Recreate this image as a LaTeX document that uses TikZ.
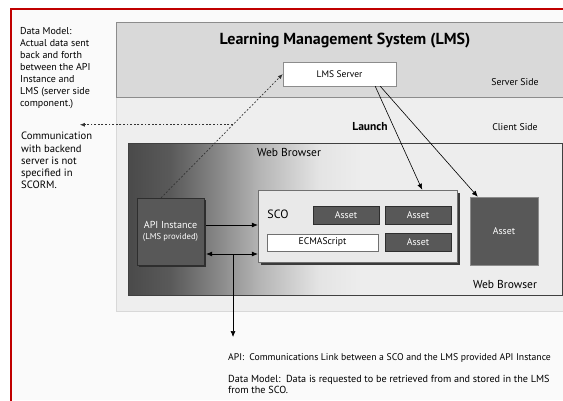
\documentclass[tikz,border=0pt]{standalone}
\usepackage{fontspec}
\setmainfont{PT Sans}
\usetikzlibrary{arrows.meta,calc,shadows}
\definecolor{framered}{HTML}{C00000}
\definecolor{paper}{HTML}{FAFAFA}
\definecolor{srvfill}{HTML}{D9D9D9}
\definecolor{srvline}{HTML}{8C8C8C}
\definecolor{clifill}{HTML}{EEEEEE}
\definecolor{cliline}{HTML}{D8D8D8}
\definecolor{wbdark}{HTML}{4A4A4A}
\definecolor{wbmid1}{HTML}{5A5A5A}
\definecolor{wbmid2}{HTML}{8A8A8A}
\definecolor{wbmid3}{HTML}{B5B5B5}
\definecolor{wbmid4}{HTML}{E4E4E4}
\definecolor{wblight}{HTML}{EDEDED}
\definecolor{darkbox}{HTML}{585858}
\definecolor{darkline}{HTML}{2E2E2E}
\definecolor{scofill}{HTML}{E9E9E9}
\definecolor{scoline}{HTML}{707070}
\definecolor{shadowc}{HTML}{3A3A3A}
\pgfdeclarehorizontalshading{wbshade}{100bp}{color(0bp)=(wbdark); color(25bp)=(wbdark); color(30bp)=(wbmid1); color(35.6bp)=(wbmid2); color(40.2bp)=(wbmid3); color(47bp)=(wbmid4); color(52bp)=(wblight); color(100bp)=(wblight)}
\tikzset{
  x=1pt, y=-1pt,
  arr/.style={-{Latex[length=6pt,width=5pt]}, line width=0.6pt, draw=black},
  arrboth/.style={{Latex[length=6pt,width=5pt]}-{Latex[length=6pt,width=5pt]}, line width=0.6pt, draw=black},
  dashedarr/.style={-{Latex[length=5pt,width=4pt]}, line width=0.7pt, draw=black!80, dash pattern=on 1.8pt off 1.8pt},
  lmsbox/.style={draw=srvline, fill=white, minimum width=113pt, minimum height=24pt, inner sep=0pt,
    font=\fontsize{9.5}{11}\selectfont, drop shadow={shadow xshift=1pt, shadow yshift=-1pt, fill=black!35, opacity=1}},
  assetbox/.style={draw=darkline, fill=darkbox, text=white, minimum width=66pt, minimum height=18pt, inner sep=0pt,
    font=\fontsize{9.8}{11}\selectfont},
  ecmabox/.style={draw=scoline, fill=white, minimum width=111pt, minimum height=17pt, inner sep=0pt,
    font=\fontsize{9.6}{11}\selectfont},
  scobox/.style={draw=scoline, fill=scofill, minimum width=199pt, minimum height=72pt, inner sep=0pt,
    drop shadow={shadow xshift=3pt, shadow yshift=-3pt, fill=shadowc, opacity=1}},
  apibox/.style={draw=darkline, fill=darkbox, text=white, minimum width=67pt, minimum height=67pt, inner sep=0pt,
    align=center, drop shadow={shadow xshift=2pt, shadow yshift=-2pt, fill=darkline, opacity=1}},
  bigasset/.style={draw=black!45, fill=darkbox, text=white, minimum width=68pt, minimum height=68pt, inner sep=0pt,
    font=\fontsize{9.8}{11}\selectfont},
  lbl/.style={inner sep=0pt, font=\fontsize{9.8}{11}\selectfont},
  note/.style={inner sep=0pt, align=left, anchor=north west},
}
\begin{document}
\begin{tikzpicture}
\useasboundingbox (0,0) rectangle (563,400);
\fill[white] (0,0) rectangle (563,400);
\fill[paper] (11,9) rectangle (563,400);
% bands
\path[fill=clifill, draw=cliline, line width=0.6pt] (116,97) rectangle (566,311);
\path[fill=srvfill, draw=srvline, line width=0.7pt] (116,22) rectangle (566,97);
% red frame
\draw[framered, line width=2.5pt] (10,9) -- (565,9);
\draw[framered, line width=2.5pt] (11,8) -- (11,402);
% web browser area
\path[shading=wbshade, draw=black!75, line width=0.7pt] (128,143) rectangle (562,295);
% labels
\node[inner sep=0pt, font=\fontsize{16}{18}\selectfont\bfseries] (title) at (345,41) {Learning Management System (LMS)};
\node[lbl] (srvside) at (515,82) {Server Side};
\node[lbl] (clside) at (515,127) {Client Side};
\node[inner sep=0pt, font=\fontsize{11.5}{13}\selectfont\bfseries] (launch) at (370,127) {Launch};
\node[inner sep=0pt, font=\fontsize{11.5}{13}\selectfont] (wbtop) at (289,152) {Web Browser};
\node[inner sep=0pt, font=\fontsize{11.5}{13}\selectfont] (wbbot) at (505,284) {Web Browser};
% boxes
\node[lmsbox] (lms) at (339.5,74) {LMS Server};
\node[scobox] (sco) at (357.5,226) {};
\node[inner sep=0pt, font=\fontsize{12}{14}\selectfont] (scol) at (278,214) {SCO};
\node[assetbox] (as1) at (346,215) {Asset};
\node[assetbox] (as2) at (418,215) {Asset};
\node[assetbox] (as3) at (418,242.5) {Asset};
\node[ecmabox] (ecma) at (322.5,242.5) {ECMAScript};
\node[apibox] (api) at (170.5,231.5) {{\fontsize{10.1}{12}\selectfont API Instance}\\[-1pt]{\fontsize{8.6}{10}\selectfont (LMS provided)}};
\node[bigasset] (bas) at (504,231) {Asset};
% connectors
\coordinate (apitop) at ($(api.north west)!0.36!(api.north east)$);
\draw[dashedarr] (apitop) -- (lms.west);
\coordinate (dmid) at ($(apitop)!0.59!(lms.west)$);
\coordinate (dleft) at ($(dmid)+(-153,0)$);
\draw[dashedarr] (dmid) -- (dleft);
\coordinate (ls1) at ($(lms.south east)+(-21,0)$);
\coordinate (ls2) at ($(lms.south east)+(-16,0)$);
\coordinate (sct) at ($(sco.north east)+(-35,0)$);
\coordinate (bat) at ($(bas.north west)+(8,0)$);
\draw[arr] (ls1) -- (sct);
\draw[arr] (ls2) -- (bat);
\coordinate (a1) at ($(api.east)+(2,-6.5)$);
\draw[arr] (a1) -- (a1 -| sco.west);
\coordinate (a2) at ($(api.east)+(2,22.5)$);
\draw[arrboth] (a2) -- (a2 -| sco.west);
\coordinate (a3) at ($(a2)!0.52!(a2 -| sco.west)$);
\coordinate (a4) at ($(a3)+(0,83)$);
\draw[arr] (a3) -- (a4);
% notes
\node[note, font=\fontsize{10}{12.1}\selectfont] (n1) at (20,27) {Data Model:\\Actual data sent\\back and forth\\between the API\\Instance and\\LMS (server side\\component.)};
\node[note, font=\fontsize{10.6}{12.3}\selectfont] (n2) at (21,132) {Communication\\with backend\\server is not\\specified in\\SCORM.};
\node[inner sep=0pt, anchor=west, font=\fontsize{9.7}{12}\selectfont] (n3) at (228,358) {API:\ \ Communications Link between a SCO and the LMS provided API Instance};
\node[note, font=\fontsize{10.2}{11.5}\selectfont] (n4) at (228,375) {Data Model:\ \ Data is requested to be retrieved from and stored in the LMS\\from the SCO.};
\end{tikzpicture}
\end{document}
